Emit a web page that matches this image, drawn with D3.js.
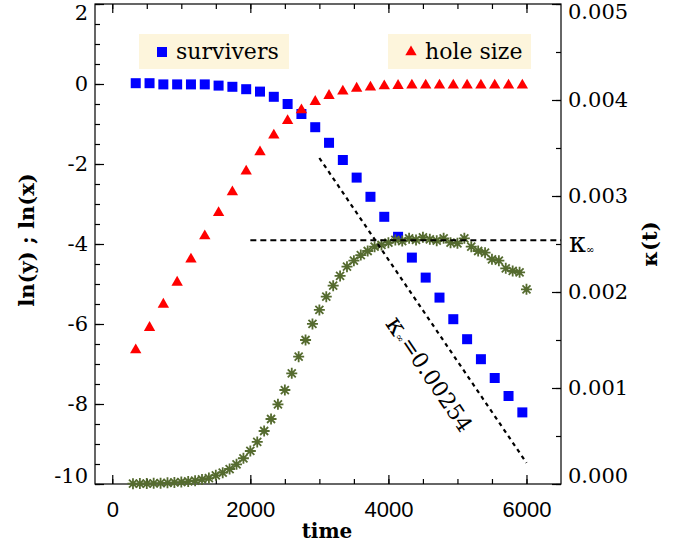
<!DOCTYPE html>
<html>
<head>
<meta charset="utf-8">
<script src="https://cdn.jsdelivr.net/npm/d3@7"></script>
<style>
    body { margin: 0; background: #fff; }
    text { fill: #000; }
</style>
</head>
<body>
<div id="chart"></div>
<script>
// survivors and hole size, sampled every 200
const survTime = [340, 540, 740, 940, 1140, 1340, 1540, 1740, 1940, 2140, 2340, 2540, 2740, 2940, 3140,
    3340, 3540, 3740, 3940, 4140, 4340, 4540, 4740, 4940, 5140, 5340, 5540, 5740, 5940];
const survivors = [0.02, 0.02, -0.01, -0.01, -0.01, -0.01, -0.04, -0.07, -0.13, -0.19, -0.32, -0.5, -0.75, -1.08, -1.47,
    -1.9, -2.34, -2.82, -3.32, -3.82, -4.34, -4.84, -5.34, -5.88, -6.38, -6.88, -7.35, -7.8, -8.21];
const holeSize = [-6.65, -6.09, -5.51, -4.96, -4.38, -3.8, -3.22, -2.7, -2.18, -1.7, -1.28, -0.92, -0.65, -0.44, -0.29,
    -0.18, -0.11, -0.08, -0.05, -0.04, -0.03, -0.03, -0.03, -0.03, -0.03, -0.03, -0.03, -0.03, -0.03];

// kappa(t), sampled every 100
const kapTime = [300, 400, 500, 600, 700, 800, 900, 1000, 1100, 1200, 1300, 1400, 1500, 1600, 1700, 1800, 1900, 2000,
    2100, 2200, 2300, 2400, 2500, 2600, 2700, 2800, 2900, 3000, 3100, 3200, 3300, 3400, 3500, 3600, 3700, 3800,
    3900, 4000, 4100, 4200, 4300, 4400, 4500, 4600, 4700, 4800, 4900, 5000, 5100, 5200, 5300, 5400, 5500, 5600,
    5700, 5800, 5900, 6000];
const kappa = [0.000003, 0.000004, 0.000005, 0.000007, 0.000009, 0.000012, 0.000016, 0.00002, 0.000027, 0.000035,
    0.000047, 0.000062, 0.00009, 0.000118, 0.000156, 0.000205, 0.000268, 0.000344, 0.000438, 0.000552, 0.000677,
    0.00083, 0.000979, 0.001153, 0.001326, 0.0015, 0.001667, 0.001813, 0.001951, 0.002066, 0.002167, 0.002264,
    0.002326, 0.002385, 0.002427, 0.002472, 0.00249, 0.002514, 0.002542, 0.002531, 0.002559, 0.002542, 0.00257,
    0.002549, 0.002534, 0.002559, 0.002514, 0.002507, 0.002559, 0.002472, 0.002427, 0.00241, 0.002341, 0.002326,
    0.002247, 0.002219, 0.002205, 0.002028];

const kappaInf = 0.00254;
const fitIntercept = 5.77;     // ln(y) ~ a - kappaInf * t
const fitRange = [3000, 6000];
const kappaLineStart = 2000;

const xTicks = [0, 2000, 4000, 6000];
const yLeftTicks = [-10, -8, -6, -4, -2, 0, 2];
const yRightTicks = [0, 0.001, 0.002, 0.003, 0.004, 0.005];

const drawChart = function () {
    const width = 679;
    const height = 545;
    const left = 95, right = 561, top = 4, bottom = 484;

    const x = d3.scaleLinear().domain([-250, 6500]).range([left, right]);
    const yL = d3.scaleLinear().domain([-10, 2]).range([bottom, top]);
    const yR = d3.scaleLinear().domain([0, 0.005]).range([bottom, top]);

    const svg = d3.select('#chart').append('svg')
        .attr('width', width)
        .attr('height', height)
        .style('font-family', '"DejaVu Serif", serif');

    // frame
    svg.append('rect')
        .attr('x', left).attr('y', top)
        .attr('width', right - left).attr('height', bottom - top)
        .attr('fill', 'none').attr('stroke', '#000').attr('stroke-width', 1.2);

    const clean = g => {
        g.select('.domain').remove();
        g.selectAll('line').attr('stroke', '#000').attr('stroke-width', 1.2);
    };

    // minor ticks
    const xMinor = d3.range(0, 6001, 500);
    svg.append('g').attr('transform', `translate(0,${bottom})`)
        .call(d3.axisBottom(x).tickValues(xMinor).tickSize(-5).tickFormat(''))
        .call(clean);
    svg.append('g').attr('transform', `translate(0,${top})`)
        .call(d3.axisTop(x).tickValues(xMinor).tickSize(-5).tickFormat(''))
        .call(clean);
    svg.append('g').attr('transform', `translate(${left},0)`)
        .call(d3.axisLeft(yL).tickValues(d3.range(-10, 2.01, 0.5)).tickSize(-5).tickFormat(''))
        .call(clean);
    svg.append('g').attr('transform', `translate(${right},0)`)
        .call(d3.axisRight(yR).tickValues(d3.range(0, 0.00501, 0.0005)).tickSize(-5).tickFormat(''))
        .call(clean);

    // major ticks + labels
    const xAxis = svg.append('g').attr('transform', `translate(0,${bottom})`)
        .call(d3.axisBottom(x).tickValues(xTicks).tickSize(-9).tickPadding(17).tickFormat(d => String(d)))
        .call(clean);
    xAxis.selectAll('text')
        .style('font-family', '"Liberation Sans", Arial, sans-serif')
        .style('font-size', '22px');
    svg.append('g').attr('transform', `translate(0,${top})`)
        .call(d3.axisTop(x).tickValues(xTicks).tickSize(-9).tickFormat(''))
        .call(clean);

    const yAxis = svg.append('g').attr('transform', `translate(${left},0)`)
        .call(d3.axisLeft(yL).tickValues(yLeftTicks).tickSize(-9).tickPadding(7).tickFormat(d => String(d)))
        .call(clean);
    yAxis.selectAll('text')
        .style('font-family', '"DejaVu Serif", serif')
        .style('font-size', '21px')
        .attr('y', d => Math.min(Math.max(yL(d), 13), 476) - yL(d));

    const rAxis = svg.append('g').attr('transform', `translate(${right},0)`)
        .call(d3.axisRight(yR).tickValues(yRightTicks).tickSize(-9).tickPadding(7).tickFormat(d3.format('.3f')))
        .call(clean);
    rAxis.selectAll('text')
        .style('font-family', '"DejaVu Serif", serif')
        .style('font-size', '21px')
        .attr('y', d => Math.min(Math.max(yR(d), 12), 476) - yR(d));

    // axis titles
    svg.append('text')
        .attr('x', (left + right) / 2 - 1).attr('y', 538)
        .attr('text-anchor', 'middle')
        .style('font-weight', 'bold').style('font-size', '20px')
        .text('time');
    svg.append('text')
        .attr('transform', 'translate(34,240) rotate(-90)')
        .attr('text-anchor', 'middle')
        .style('font-weight', 'bold').style('font-size', '21px')
        .text('ln(y) ; ln(x)');
    svg.append('text')
        .attr('transform', 'translate(657,244) rotate(-90)')
        .attr('text-anchor', 'middle')
        .style('font-weight', 'bold').style('font-size', '21px')
        .text('κ(t)');

    // survivors
    svg.append('g').selectAll('rect')
        .data(survTime.map((t, i) => [t, survivors[i]]))
        .join('rect')
        .attr('x', d => x(d[0]) - 5).attr('y', d => yL(d[1]) - 5)
        .attr('width', 10).attr('height', 10)
        .attr('fill', '#0000ff');

    // hole size
    const tri = d3.symbol(d3.symbolTriangle, 56);
    svg.append('g').selectAll('path')
        .data(survTime.map((t, i) => [t, holeSize[i]]))
        .join('path')
        .attr('transform', d => `translate(${x(d[0])},${yL(d[1])})`)
        .attr('d', tri)
        .attr('fill', '#ff0000');

    // kappa(t) stars
    const star = 'M-5.5,0L5.5,0M0,-5.5L0,5.5M-4,-4L4,4M-4,4L4,-4';
    svg.append('g').selectAll('path')
        .data(kapTime.map((t, i) => [t, kappa[i]]))
        .join('path')
        .attr('transform', d => `translate(${x(d[0])},${yR(d[1])})`)
        .attr('d', star)
        .attr('fill', 'none')
        .attr('stroke', '#556b2f')
        .attr('stroke-width', 1.8);

    // kappa infinity level
    svg.append('line')
        .attr('x1', x(kappaLineStart)).attr('x2', right)
        .attr('y1', yR(kappaInf)).attr('y2', yR(kappaInf))
        .attr('stroke', '#000').attr('stroke-width', 2)
        .attr('stroke-dasharray', '6,4');
    const kLab = svg.append('text')
        .attr('x', 569).attr('y', yR(kappaInf) + 12)
        .style('font-size', '27px')
        .text('κ');
    kLab.append('tspan').attr('dy', 1).style('font-size', '10px').text('∞');

    // exponential decay fit
    const fitLine = d3.line()
        .x(d => x(d))
        .y(d => yL(fitIntercept - kappaInf * d));
    svg.append('path')
        .datum(fitRange)
        .attr('d', fitLine)
        .attr('fill', 'none')
        .attr('stroke', '#000').attr('stroke-width', 2.2)
        .attr('stroke-dasharray', '4,4');

    const p0 = [x(fitRange[0]), yL(fitIntercept - kappaInf * fitRange[0])];
    const p1 = [x(fitRange[1]), yL(fitIntercept - kappaInf * fitRange[1])];
    const angle = Math.atan2(p1[1] - p0[1], p1[0] - p0[0]) * 180 / Math.PI;
    const tMid = 4960;
    const fitLab = svg.append('text')
        .attr('transform', `translate(${x(tMid)},${yL(fitIntercept - kappaInf * tMid)}) rotate(${angle}) translate(0,30)`)
        .attr('text-anchor', 'middle')
        .attr('dominant-baseline', 'central')
        .style('font-size', '22px');
    fitLab.append('tspan').style('font-size', '26px').text('κ');
    fitLab.append('tspan').attr('dy', 4).style('font-size', '10px').text('∞');
    fitLab.append('tspan').attr('dy', -4).text('=0.00254');

    // legend boxes
    const legend = [
        {x: 139, w: 150, label: 'survivers', kind: 'square', color: '#0000ff'},
        {x: 388, w: 143, label: 'hole size', kind: 'triangle', color: '#ff0000'}
    ];
    const lg = svg.append('g').selectAll('g').data(legend).join('g')
        .attr('transform', d => `translate(${d.x},34)`);
    lg.append('rect')
        .attr('width', d => d.w).attr('height', 35)
        .attr('fill', '#fdf5dc');
    lg.filter(d => d.kind === 'square').append('rect')
        .attr('x', 18).attr('y', 13).attr('width', 10).attr('height', 10)
        .attr('fill', d => d.color);
    lg.filter(d => d.kind === 'triangle').append('path')
        .attr('transform', 'translate(23,18)')
        .attr('d', tri)
        .attr('fill', d => d.color);
    lg.append('text')
        .attr('x', 37).attr('y', 25)
        .style('font-size', '22px')
        .text(d => d.label);
};

drawChart();
</script>
</body>
</html>
